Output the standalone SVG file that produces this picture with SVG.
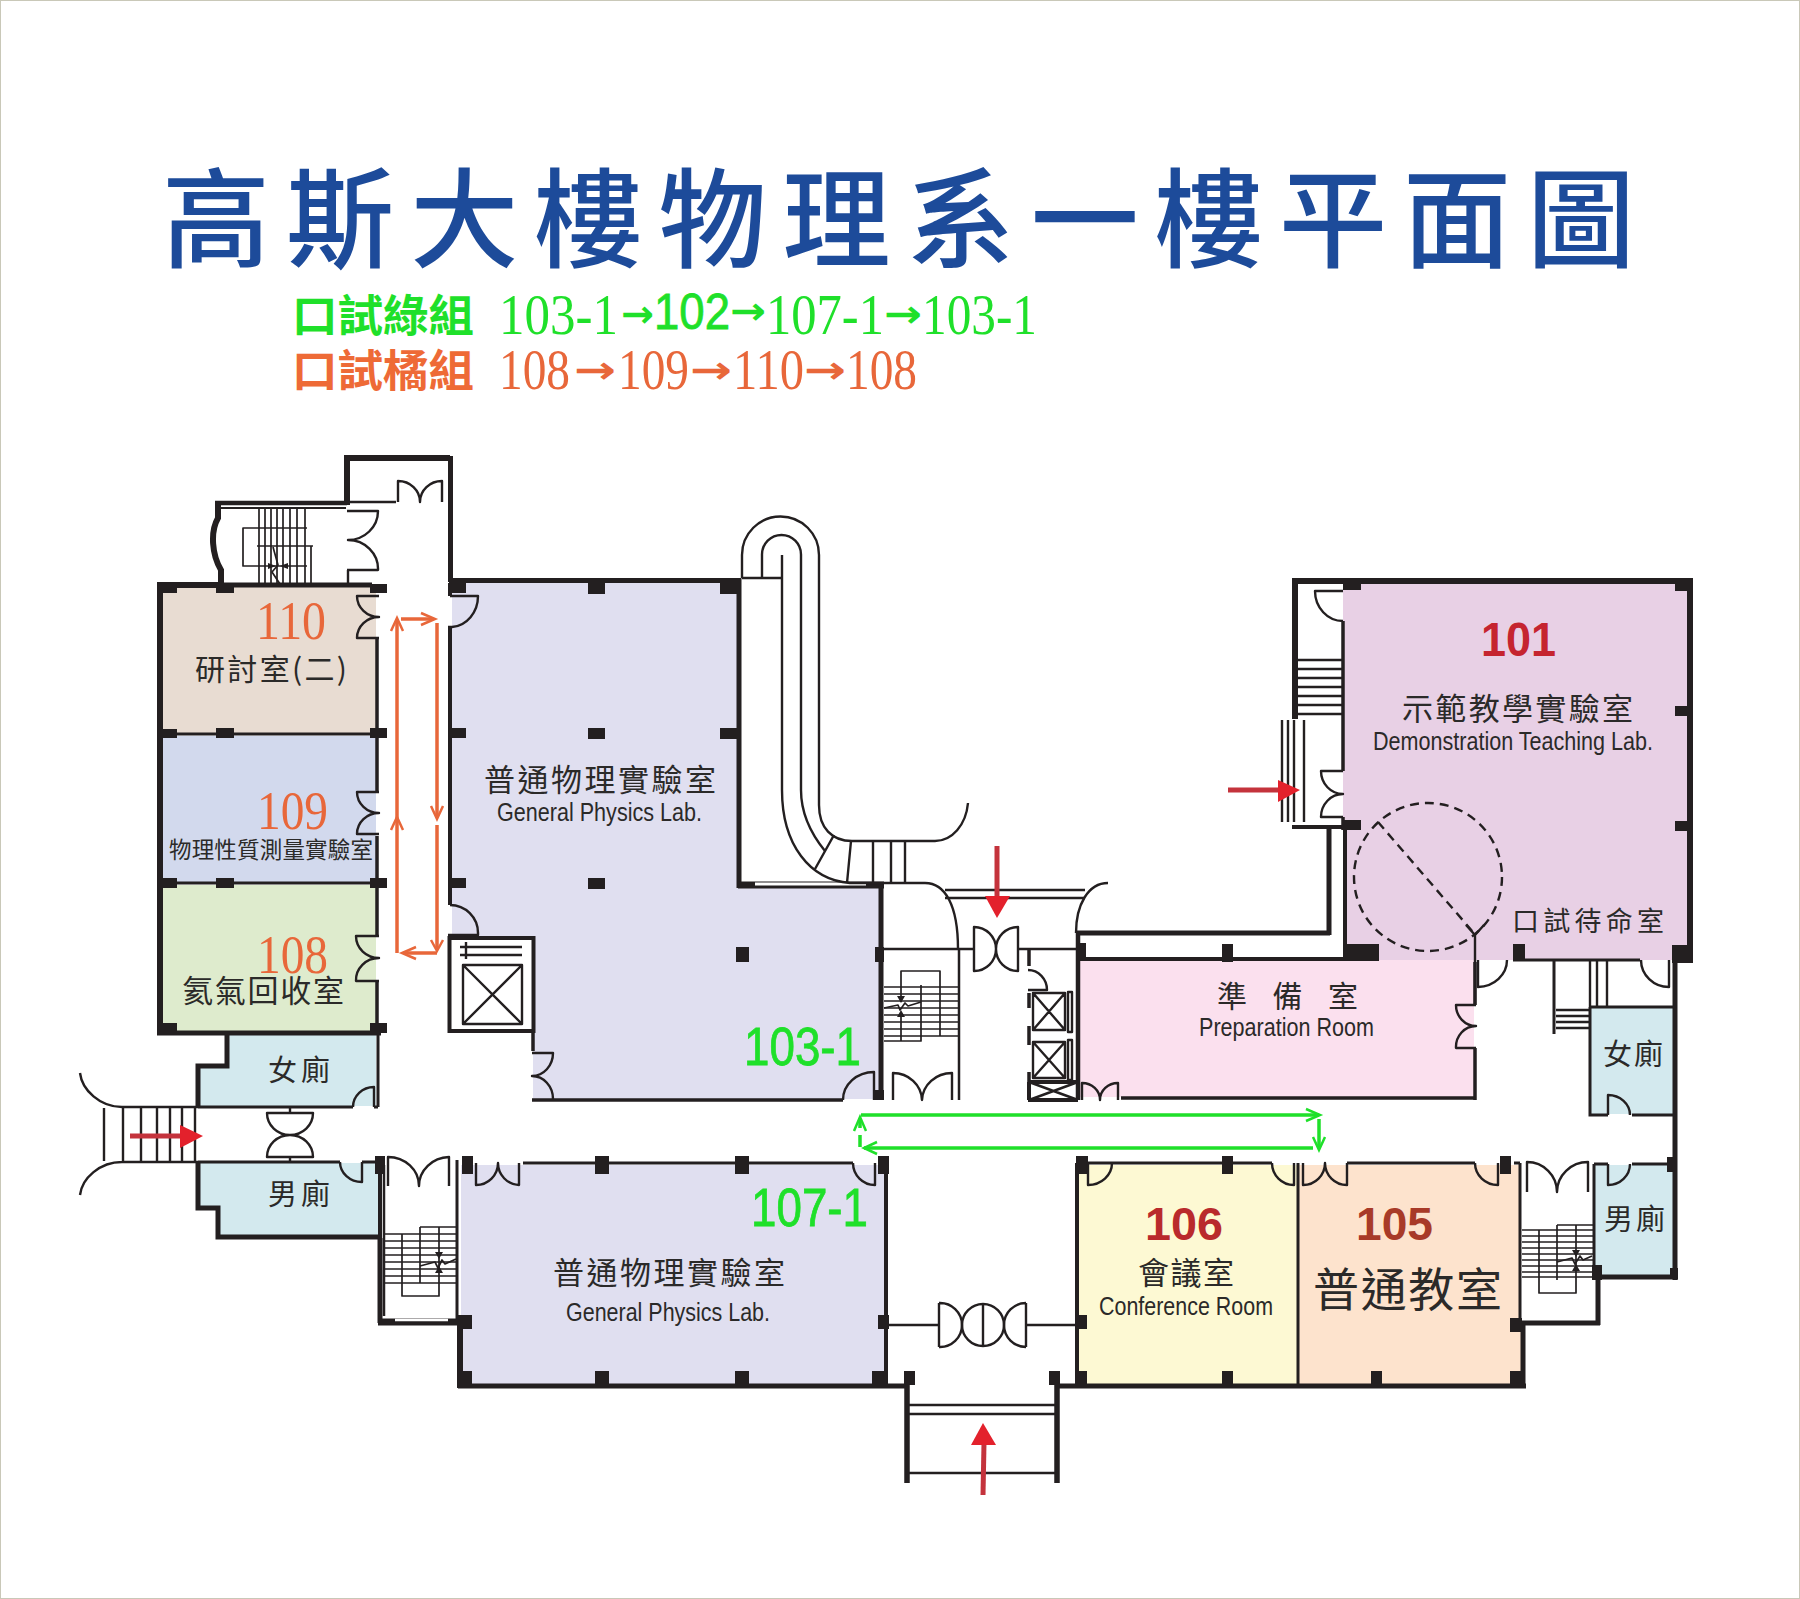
<svg xmlns="http://www.w3.org/2000/svg" width="1800" height="1599" viewBox="0 0 1800 1599">
<defs>
<style>
.f{stroke:none}
.w{fill:none;stroke:#231f20;stroke-linecap:butt;stroke-linejoin:miter}
.t{fill:none;stroke:#231f20;stroke-width:2.4;stroke-linejoin:round}
.n{stroke-width:1.7}
.c{fill:#231f20;stroke:none}
.cj{font-family:"Noto Sans CJK TC","Noto Sans CJK SC",sans-serif;fill:#2b2a29}
.en{font-family:"Liberation Sans",Arial,sans-serif;fill:#2b2a29}
.rd{font-family:"Liberation Sans",Arial,sans-serif;font-weight:700}
.se{font-family:"Liberation Serif","Times New Roman",serif}
.ar{font-family:"DejaVu Sans",sans-serif;font-weight:700}
.og{fill:#e8673a}.gr{fill:#1fe02a}
.gb{fill:#1fe02a;stroke:#1fe02a;stroke-width:.8}
.or{fill:none;stroke:#e8673a;stroke-width:3.5}
.gl{fill:none;stroke:#1fe02a;stroke-width:3.5}
.ah{fill:none;stroke-width:2.5}
.ra{fill:none;stroke:#c4333c;stroke-width:5}
.rh{fill:#e3212c;stroke:none}
</style>
</defs>
<rect x="0.5" y="0.5" width="1799" height="1598" fill="#ffffff" stroke="#c9c8b8"/>

<g id="title">
<text class="cj" x="162" y="259" font-size="108" font-weight="500" letter-spacing="16.1" style="fill:#1d4b9a">高斯大樓物理系一樓平面圖</text>
</g>
<g id="legend">
<text class="cj" x="292" y="332" font-size="44" font-weight="700" textLength="182" lengthAdjust="spacingAndGlyphs" style="fill:#1fe02a">口試綠組</text>
<text class="cj" x="292" y="387" font-size="44" font-weight="700" textLength="182" lengthAdjust="spacingAndGlyphs" style="fill:#ee6a36">口試橘組</text>
<g class="se" font-size="58">
<text class="gr" x="499" y="334" textLength="119" lengthAdjust="spacingAndGlyphs">103-1</text>
<text class="ar gr" x="621" y="327" font-size="38" textLength="33" lengthAdjust="spacingAndGlyphs">→</text>
<text class="en gb" x="654" y="329" font-size="50" textLength="76" lengthAdjust="spacingAndGlyphs">102</text>
<text class="ar gr" x="730" y="324" font-size="38" textLength="36" lengthAdjust="spacingAndGlyphs">→</text>
<text class="gr" x="766" y="334" textLength="118" lengthAdjust="spacingAndGlyphs">107-1</text>
<text class="ar gr" x="884" y="327" font-size="38" textLength="38" lengthAdjust="spacingAndGlyphs">→</text>
<text class="gr" x="922" y="334" textLength="115" lengthAdjust="spacingAndGlyphs">103-1</text>
<text class="og" x="499" y="389" textLength="71" lengthAdjust="spacingAndGlyphs">108</text>
<text class="ar og" x="574" y="383" font-size="38" textLength="42" lengthAdjust="spacingAndGlyphs">→</text>
<text class="og" x="618" y="389" textLength="71" lengthAdjust="spacingAndGlyphs">109</text>
<text class="ar og" x="690" y="383" font-size="38" textLength="42" lengthAdjust="spacingAndGlyphs">→</text>
<text class="og" x="733" y="389" textLength="71" lengthAdjust="spacingAndGlyphs">110</text>
<text class="ar og" x="804" y="383" font-size="38" textLength="42" lengthAdjust="spacingAndGlyphs">→</text>
<text class="og" x="846" y="389" textLength="71" lengthAdjust="spacingAndGlyphs">108</text>
</g>
</g>

<g id="room-110">
<rect class="f" x="162" y="587" width="214" height="147" fill="#e8dcd2"/>
<text class="se og" x="256" y="639" font-size="54" textLength="70" lengthAdjust="spacingAndGlyphs">110</text>
<text class="cj" x="195" y="680" font-size="30" textLength="152">研討室(二)</text>
</g>
<g id="room-109">
<rect class="f" x="162" y="736" width="214" height="147" fill="#d2d9ed"/>
<text class="se og" x="257" y="829" font-size="54" textLength="71" lengthAdjust="spacingAndGlyphs">109</text>
<text class="cj" x="169" y="858" font-size="22.500" textLength="204">物理性質測量實驗室</text>
</g>
<g id="room-108">
<rect class="f" x="162" y="885" width="214" height="146" fill="#deebcd"/>
<text class="se og" x="257" y="973" font-size="54" textLength="71" lengthAdjust="spacingAndGlyphs">108</text>
<text class="cj" x="182" y="1002" font-size="31" textLength="162">氦氣回收室</text>
</g>
<g id="toilet-f-left">
<path class="f" d="M227 1035H376V1106H199V1067H227Z" fill="#d3e9ee"/>
<text class="cj" x="268" y="1081" font-size="29" textLength="62">女廁</text>
</g>
<g id="toilet-m-left">
<path class="f" d="M199 1163H378V1236H219V1207H199Z" fill="#d3e9ee"/>
<text class="cj" x="268" y="1205" font-size="29" textLength="62">男廁</text>
</g>
<g id="room-103-1">
<path class="f" d="M452 583H737V888H879V1099H533V1031H452Z" fill="#e0dff0"/>
<text class="cj" x="484" y="791" font-size="31" textLength="232">普通物理實驗室</text>
<text class="en" x="497" y="821" font-size="26" textLength="205" lengthAdjust="spacingAndGlyphs">General Physics Lab.</text>
<text class="en gb" x="744" y="1065" font-size="53" textLength="117" lengthAdjust="spacingAndGlyphs">103-1</text>
</g>
<g id="room-107-1">
<rect class="f" x="461" y="1165" width="424" height="220" fill="#e0dff0"/>
<text class="cj" x="553" y="1284" font-size="31" textLength="232">普通物理實驗室</text>
<text class="en" x="566" y="1321" font-size="26" textLength="204" lengthAdjust="spacingAndGlyphs">General Physics Lab.</text>
<text class="en gb" x="751" y="1226" font-size="53" textLength="117" lengthAdjust="spacingAndGlyphs">107-1</text>
</g>
<g id="room-101">
<rect class="f" x="1343" y="583" width="346" height="377" fill="#e8d0e5"/>
<text class="rd" x="1481" y="656" font-size="48" textLength="75" lengthAdjust="spacingAndGlyphs" fill="#c5242f">101</text>
<text class="cj" x="1402" y="720" font-size="31" textLength="231">示範教學實驗室</text>
<text class="en" x="1373" y="750" font-size="26" textLength="280" lengthAdjust="spacingAndGlyphs">Demonstration Teaching Lab.</text>
<text class="cj" x="1512" y="931" font-size="27" textLength="152">口試待命室</text>
</g>
<g id="room-prep">
<rect class="f" x="1080" y="960" width="394" height="137" fill="#fbe0ee"/>
<text class="cj" x="1217" y="1007" font-size="30" textLength="141">準 備 室</text>
<text class="en" x="1199" y="1036" font-size="26" textLength="175" lengthAdjust="spacingAndGlyphs">Preparation Room</text>
</g>
<g id="room-106">
<rect class="f" x="1079" y="1165" width="219" height="219" fill="#fdf9d3"/>
<text class="rd" x="1145" y="1240" font-size="47" textLength="78" lengthAdjust="spacingAndGlyphs" fill="#b92a2c">106</text>
<text class="cj" x="1138" y="1284" font-size="31" textLength="96">會議室</text>
<text class="en" x="1099" y="1315" font-size="26" textLength="174" lengthAdjust="spacingAndGlyphs">Conference Room</text>
</g>
<g id="room-105">
<rect class="f" x="1299" y="1165" width="222" height="219" fill="#fde3cd"/>
<text class="rd" x="1356" y="1240" font-size="47" textLength="77" lengthAdjust="spacingAndGlyphs" fill="#a83a28">105</text>
<text class="cj" x="1313" y="1306" font-size="46" textLength="189">普通教室</text>
</g>
<g id="toilet-f-right">
<rect class="f" x="1591" y="1008" width="83" height="106" fill="#d3e9ee"/>
<text class="cj" x="1603" y="1065" font-size="29" textLength="60">女廁</text>
</g>
<g id="toilet-m-right">
<rect class="f" x="1595" y="1165" width="79" height="111" fill="#d3e9ee"/>
<text class="cj" x="1604" y="1230" font-size="29" textLength="61">男廁</text>
</g>

<g id="walls">
<path class="w" stroke-width="6" d="M160 1033V585H218"/>
<path class="w" stroke-width="5" d="M215 585H372M157 1033H381"/>
<path class="w" stroke-width="3" d="M160 734H377M160 883H377"/>
<path class="w" stroke-width="3.5" d="M377 638V792M377 836V936M377 981V1033"/>
<path class="w" stroke-width="6" d="M347 505V458H450M218 502V518C210 532 212 555 221 570V583"/>
<path class="w" stroke-width="4.500" d="M215 503H347"/>
<path class="w" stroke-width="5" d="M450.500 456V582"/>
<path class="w" stroke-width="1.800" d="M219 508H346"/>
<path class="w" stroke-width="5" d="M227 1033V1066H198V1107"/>
<path class="w" stroke-width="3" d="M198 1107H353M378 1033V1107M374 1107H378"/>
<path class="w" stroke-width="3" d="M198 1162H340M362 1162H375"/>
<path class="w" stroke-width="5" d="M198 1162V1208H218V1237H381"/>
<path class="w" stroke-width="4" d="M380 1165V1240"/>
<path class="w" stroke-width="5" d="M380 1238V1323"/>
<path class="w" stroke-width="2.500" d="M384 1165V1316"/>
<path class="w" stroke-width="7" d="M378 1322H465"/>
<path d="M395 1320H448" stroke="#fff" stroke-width="2.500"/>
<path class="w" stroke-width="3" d="M457 1160V1320"/>
<path class="w" stroke-width="6" d="M460 1322V1388"/>
<path class="w" stroke-width="5" d="M458 1386H907M1057 1386H1526M1523 1322V1388"/>
<path class="w" stroke-width="3" d="M523 1163H853"/>
<path class="w" stroke-width="4" d="M886 1163V1385"/>
<path class="w" stroke-width="4" d="M450 583V596M450 627V905"/>
<path class="w" stroke-width="5" d="M449 580.500H741M739 578V888"/>
<path class="w" stroke-width="7" d="M738 885H884"/>
<path d="M755 884H866" stroke="#fff" stroke-width="3"/>
<path class="w" stroke-width="5" d="M881 885V1100"/>
<path class="w" stroke-width="3.500" d="M532 1100H843"/>
<path class="w" stroke-width="3.500" d="M533 1020V1051"/>
<rect class="w" stroke-width="4" x="449.500" y="938" width="84" height="93" style="fill:#fff"/>
<path class="t" d="M463 965H522V1024H463ZM463 965L522 1024M522 965L463 1024"/>
<path class="t" d="M460 947H522M460 955H522M466 942V959"/>
<path class="w" stroke-width="2.500" d="M883 949H974M1018 949H1076M959 949V1100"/>
<path class="w" stroke-width="2.500" d="M945 890H1085M945 898H1085"/>
<path class="w" stroke-width="4.500" d="M1078 933V1100"/>
<path class="w" stroke-width="5" d="M1076 933H1330M1329 827V935"/>
<path class="w" stroke-width="4" d="M1078 959H1345M1345 827V960"/>
<path class="w" stroke-width="4" d="M1292 827H1345"/>
<path class="w" stroke-width="3.500" d="M1121 1098H1476M1475 962V1005M1475 1048V1100"/>
<path class="w" stroke-width="4" d="M1028 1082H1078M1028 1100H1078M1029 1082V1100"/>
<path class="t" d="M1029 1082L1078 1100M1078 1082L1029 1100"/>
<path class="w" stroke-width="6" d="M1295 719V581H1693M1690 578V963"/>
<path class="w" stroke-width="3.500" d="M1343 621V771M1343 817V830"/>
<path class="w" stroke-width="3" d="M1513 960H1640M1554 960V1034"/>
<path class="w" stroke-width="5" d="M1675 960V1280"/>
<path class="w" stroke-width="3" d="M1590 1007H1675M1590 1007V1115H1608M1632 1115H1675"/>
<path class="w" stroke-width="3" d="M1594 1164V1277M1594 1164H1608M1632 1164H1672"/>
<path class="w" stroke-width="5" d="M1592 1277H1678"/>
<path class="w" stroke-width="5" d="M1598 1277V1325M1518 1323H1600"/>
<path class="w" stroke-width="3" d="M1520 1163V1322"/>
<path class="w" stroke-width="3" d="M1077 1163H1272M1347 1163H1475M1514 1163H1520"/>
<path class="w" stroke-width="4" d="M1077 1163V1386"/>
<path class="w" stroke-width="3" d="M1298 1163V1385"/>
<path class="w" stroke-width="5.500" d="M907 1378V1483M1057 1378V1483"/>
<path class="w" stroke-width="2.400" d="M909 1405H1055M909 1414H1055M909 1473H1055"/>
<path class="w" stroke-width="2.400" d="M888 1325H939M1026 1325H1076"/>
</g>

<g id="columns">
<path class="c" d="M160 585h17v8h-17zM216 584h18v9h-18zM370 584h17v9h-17zM160 729h17v9h-17zM216 728h18v10h-18zM370 728h17v10h-17zM160 878h17v10h-17zM216 878h18v10h-18zM370 878h17v10h-17zM160 1023h17v10h-17zM370 1023h17v10h-17z"/>
<path class="c" d="M450 578h16v15h-16zM588 581h17v13h-17zM720 581h17v13h-17zM450 728h16v10h-16zM588 728h17v11h-17zM720 728h17v11h-17zM450 878h16v10h-16zM588 878h17v11h-17zM736 947h13v15h-13zM875 947h9v15h-9zM875 1090h9v10h-9z"/>
<path class="c" d="M375 1156h10v18h-10zM462 1156h11v18h-11zM595 1156h14v18h-14zM735 1156h14v18h-14zM878 1156h11v18h-11zM458 1315h14v14h-14zM458 1371h14v15h-14zM595 1371h14v15h-14zM735 1371h14v15h-14zM872 1371h14v15h-14zM878 1315h11v14h-11zM1076 1315h11v14h-11zM1076 1371h11v14h-11zM904 1371h11v14h-11zM1049 1371h11v14h-11z"/>
<path class="c" d="M1076 1156h12v18h-12zM1222 1156h11v18h-11zM1500 1156h11v18h-11zM1371 1371h11v14h-11zM1222 1371h11v14h-11zM1510 1318h12v14h-12zM1510 1371h12v14h-12zM1667 1157h8v15h-8zM1670 1268h8v10h-8zM1592 1265h10v15h-10z"/>
<path class="c" d="M1078 943h8v17h-8zM1222 944h11v18h-11zM1343 944h36v17h-36zM1343 820h18v10h-18zM1513 944h12v17h-12zM1672 945h21v18h-21zM1343 581h18v9h-18zM1675 581h18v10h-18zM1675 706h15v10h-15zM1675 821h15v10h-15z"/>
</g>

<g id="doors">
<path class="t" d="M398 502V481A22 21 0 0 1 420 502A22 21 0 0 1 442 481V502"/>
<path class="t" d="M347 511H378A30 29 0 0 1 348 540A30 29 0 0 1 378 570H347M348 570V584M347 502H396"/>
<path class="t" d="M379 596H357A22 21 0 0 0 379 617A22 21 0 0 0 357 638H379"/>
<path class="t" d="M379 792H357A22 21 0 0 0 379 813A22 21 0 0 0 357 834H379"/>
<path class="t" d="M379 936H356A23 22 0 0 0 379 958A23 22 0 0 0 356 981H379"/>
<path class="t" d="M450 596H478A28 31 0 0 1 452 627H448"/>
<path class="t" d="M450 905A28 28 0 0 1 478 933V935H448"/>
<path class="t" d="M353 1107A21 20 0 0 1 374 1087V1107"/>
<path class="t" d="M340 1162A22 20 0 0 0 362 1182V1162"/>
<path class="t" d="M267 1113H313A23 22 0 0 1 290 1135A23 22 0 0 1 267 1113ZM267 1157H313A23 22 0 0 0 290 1135A23 22 0 0 0 267 1157ZM290 1107V1113M290 1157V1162"/>
<path class="t" d="M388 1186V1157A31 29 0 0 1 419 1186A31 29 0 0 1 449 1157V1186"/>
<path class="t" d="M476 1163V1185A22 22 0 0 0 498 1163A22 22 0 0 0 519 1185V1163"/>
<path class="t" d="M853 1163A22 22 0 0 0 875 1185V1163"/>
<path class="t" d="M843 1100A31 28 0 0 1 874 1072V1100"/>
<path class="t" d="M893 1100V1073A29 28 0 0 1 922 1100A30 28 0 0 1 952 1073V1100"/>
<path class="t" d="M974 949V927A22 22 0 0 1 996 949A22 22 0 0 1 1018 927V971A22 22 0 0 1 996 949A22 22 0 0 1 974 971V949"/>
<path class="t" d="M1028 970A19 20 0 0 1 1047 990H1028"/>
<path class="w" stroke-width="3.500" d="M1029 950V966M1029 993V1008M1029 1026V1045M1029 1072V1082"/>
<path class="t" d="M1082 1100V1083A18 17 0 0 1 1100 1100A18 17 0 0 1 1118 1083V1100"/>
<path class="t" d="M1088 1163V1185A24 22 0 0 0 1112 1163"/>
<path class="t" d="M1272 1163A22 22 0 0 0 1294 1185V1163"/>
<path class="t" d="M1303 1163V1185A22 22 0 0 0 1325 1163A22 22 0 0 0 1347 1185V1163"/>
<path class="t" d="M1475 1163A23 22 0 0 0 1498 1185V1163"/>
<path class="t" d="M1527 1192V1162A30 30 0 0 1 1557 1192A31 30 0 0 1 1588 1162V1192"/>
<path class="t" d="M1608 1115V1095A22 20 0 0 1 1630 1115"/>
<path class="t" d="M1608 1164V1185A22 21 0 0 0 1630 1164"/>
<path class="t" d="M1476 1005H1456A20 21 0 0 0 1476 1026A20 21 0 0 0 1456 1048H1476"/>
<path class="t" d="M1478 960V987A30 27 0 0 0 1507 960"/>
<path class="t" d="M1641 960A28 27 0 0 0 1669 987V960"/>
<path class="t" d="M1343 591H1315A28 30 0 0 0 1343 621"/>
<path class="t" d="M1343 771H1321A22 23 0 0 0 1343 794A22 23 0 0 0 1321 817H1343"/>
<path class="t" d="M532 1053H553A21 23 0 0 1 532 1076A21 23 0 0 1 553 1099"/>
<path class="t" d="M939 1303V1347M939 1303A22 22 0 0 1 962 1325A22 22 0 0 1 939 1347M1026 1303V1347M1026 1303A22 22 0 0 0 1004 1325A22 22 0 0 0 1026 1347"/>
<circle class="t" cx="983" cy="1325" r="21"/>
<path class="t" d="M983 1304V1346"/>
</g>

<g id="stairs">
<path class="t n" d="M259 509V584M265 509V584M271 509V584M277 509V584M283 509V584M290 509V584M297 509V584M305 509V584M311 546V584"/>
<path class="t n" d="M307 528H243V566H307M257 546H313"/>
<path class="t n" d="M273 547L278 565L272 572L280 584"/>
<path class="c" d="M268 563l8 3l-8 3zM288 563l-8 3l8 3z"/>
<path class="t" d="M742 578V555A38.500 38.500 0 0 1 819 555V805C819 828 832 841 852 841H935C952 841 966 825 968 803"/>
<path class="t" d="M762 578V554.500A19.500 19.500 0 0 1 801 554.500V790C801 815 812 835 825 851"/>
<path class="t" d="M782 555V790C782 845 810 880 850 883H925C945 883 958 905 958 949"/>
<path class="t" d="M1108 883C1088 883 1076 905 1076 933"/>
<path class="t" d="M742 578H782"/>
<path class="t" d="M834 835L815 869M851 841L847 883M873 841V883M891 841V883M905 841V883"/>
<path class="t" d="M80 1073C82 1090 100 1107 122 1107H198M122 1162H198M122 1162C100 1162 82 1178 80 1195M104 1108V1161M123 1107V1162M141 1107V1162M157 1107V1162M170 1107V1162M182 1107V1162M195 1107V1162"/>
<path class="t n" d="M884 987H958M884 994H958M884 1001H958M884 1008H958M884 1015H958M884 1022H958M884 1029H958M884 1036H958"/>
<path class="t n" d="M901 1002V971H940V1036M921 985V1041H884M901 1012V1041"/>
<path class="t n" d="M884 1008L898 1005L900 1010L905 1003L908 1006L921 1002"/>
<path class="c" d="M897 996l4 7l4 -7zM897 1017l4 -7l4 7z"/>
<path class="t" d="M1033 993H1065V1030H1033ZM1033 993L1065 1030M1065 993L1033 1030M1033 1042H1065V1078H1033ZM1033 1042L1065 1078M1065 1042L1033 1078M1068 992H1072V1032H1068ZM1068 1040H1072V1080H1068Z"/>
<path class="t n" d="M420 1227H457M420 1234H457M385 1234H457M385 1241H457M385 1248H457M385 1255H457M385 1262H457M385 1269H457M385 1276H457M385 1283H457"/>
<path class="t n" d="M402 1234V1296H439V1227M420 1227V1283"/>
<path class="t n" d="M420 1266L435 1262L438 1268L442 1260L445 1264L456 1259"/>
<path class="c" d="M435 1252l4 7l4 -7zM435 1273l4 -7l4 7z"/>
<path class="t n" d="M1557 1225H1593M1522 1230H1593M1522 1236H1593M1522 1242H1593M1522 1248H1593M1522 1254H1593M1522 1260H1593M1522 1266H1593M1522 1272H1593M1522 1277H1593"/>
<path class="t n" d="M1539 1230V1293H1576V1225M1557 1225V1280"/>
<path class="t n" d="M1557 1262L1572 1258L1575 1264L1580 1256L1583 1260L1592 1256"/>
<path class="c" d="M1572 1250l4 7l4 -7zM1572 1271l4 -7l4 7z"/>
<path class="t" d="M1297 660H1342M1297 669H1342M1297 678H1342M1297 687H1342M1297 696H1342M1297 705H1342M1297 714H1342"/>
<path class="t" d="M1282 720V822M1288 720V822M1294 720V822M1304 720V822"/>
<path class="t" d="M1590 960V1007M1597 960V1007M1607 960V1007M1556 1010H1590M1556 1016H1590M1556 1022H1590M1556 1028H1590"/>
<circle cx="1428" cy="877" r="74" fill="none" stroke="#231f20" stroke-width="2.400" stroke-dasharray="9 6"/>
<path d="M1378 822L1473 932" fill="none" stroke="#231f20" stroke-width="2.400" stroke-dasharray="9 6"/>
<path class="t" d="M1475 1005V933M1466 925L1475 935L1484 925"/>
</g>

<g id="connectors">
<path class="or" d="M397 953V621"/>
<path class="ah" stroke="#e8673a" d="M391 631L397 618L403 631M391 830L397 817L403 830"/>
<path class="or" d="M401 619H433"/>
<path class="ah" stroke="#e8673a" d="M421 613L435 619L421 625"/>
<path class="or" d="M437 623V816M437 825V950"/>
<path class="ah" stroke="#e8673a" d="M431 806L437 819L443 806M431 940L437 951L443 940"/>
<path class="or" d="M437 953H404"/>
<path class="ah" stroke="#e8673a" d="M416 947L402 953L416 959"/>
<path class="gl" d="M861 1115H1318M1319 1119V1148M1313 1148H864M860 1147V1135M860 1128V1120"/>
<path class="ah" stroke="#1fe02a" d="M1306 1109L1320 1115L1306 1121M1313 1137L1319 1150L1325 1137M854 1131L860 1117L866 1131M877 1142L864 1148L877 1154"/>
<path class="ra" d="M130 1136H182"/><path class="rh" d="M180 1125L203 1136L180 1148Z"/>
<path class="ra" d="M997 846V897"/><path class="rh" d="M985 896H1010L997 918Z"/>
<path class="ra" d="M1228 790H1280"/><path class="rh" d="M1278 780L1300 790L1278 802Z"/>
<path class="ra" d="M983 1495L984 1443"/><path class="rh" d="M971 1445H996L983 1423Z"/>
</g>
</svg>
